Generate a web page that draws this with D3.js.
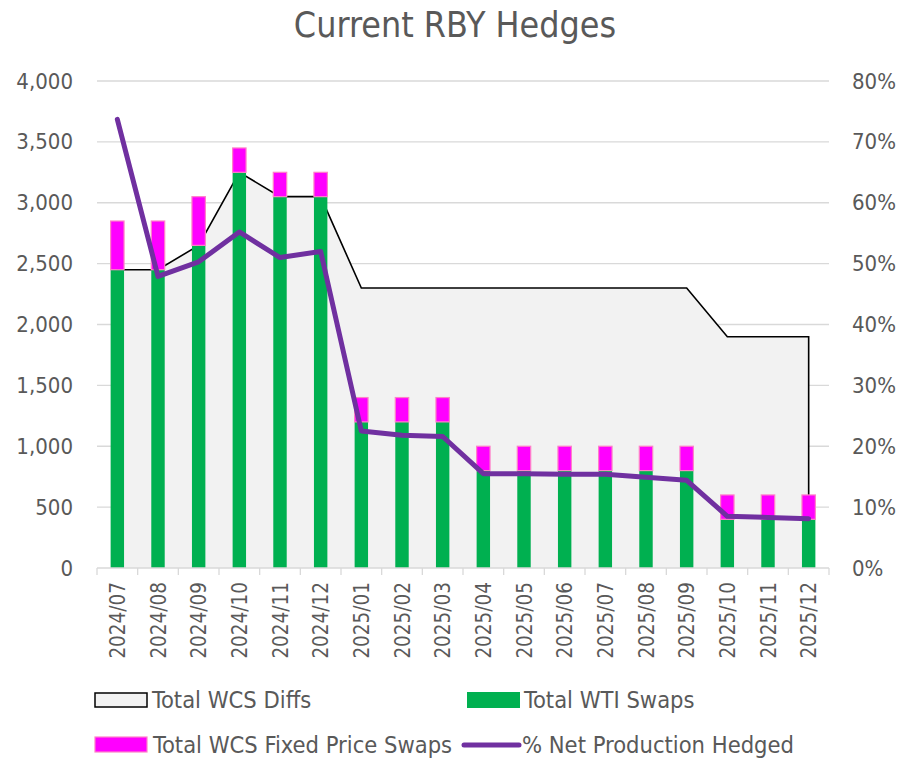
<!DOCTYPE html>
<html>
<head>
<meta charset="utf-8">
<script src="https://cdnjs.cloudflare.com/ajax/libs/d3/7.8.5/d3.min.js"></script>
<style>
  body { margin: 0; background: #fff; }
  svg { display: block; font-family: "DejaVu Sans Condensed", "DejaVu Sans", sans-serif; }
</style>
</head>
<body>
<svg id="canvas" width="903" height="758"></svg>
<script>
var months = ['2024/07', '2024/08', '2024/09', '2024/10', '2024/11', '2024/12',
    '2025/01', '2025/02', '2025/03', '2025/04', '2025/05', '2025/06',
    '2025/07', '2025/08', '2025/09', '2025/10', '2025/11', '2025/12'];
var wcsDiffs = [2450, 2450, 2650, 3250, 3050, 3050, 2300, 2300, 2300, 2300, 2300, 2300,
    2300, 2300, 2300, 1900, 1900, 1900];
var wtiSwaps = [2450, 2450, 2650, 3250, 3050, 3050, 1200, 1200, 1200, 800, 800, 800,
    800, 800, 800, 400, 400, 400];
var wcsFixed = [400, 400, 400, 200, 200, 200, 200, 200, 200, 200, 200, 200,
    200, 200, 200, 200, 200, 200];
var pctHedged = [0.737, 0.479, 0.503, 0.552, 0.510, 0.520, 0.225, 0.218, 0.216, 0.155, 0.155, 0.154,
    0.154, 0.149, 0.144, 0.085, 0.083, 0.081];
var leftTicks = [0, 500, 1000, 1500, 2000, 2500, 3000, 3500, 4000];
var rightTicks = [0, 0.1, 0.2, 0.3, 0.4, 0.5, 0.6, 0.7, 0.8];

var C = {
    left: 97, right: 829, top: 81, bottom: 568,
    text: '#595959', grid: '#d9d9d9',
    green: '#00b050', magenta: '#ff00ff', magentaEdge: '#ff80c8',
    purple: '#7030a0', areaFill: '#f2f2f2'
};

var svg = d3.select('#canvas');
var rows = months.map(function(m, i) {
    return { m: m, diff: wcsDiffs[i], wti: wtiSwaps[i], fixed: wcsFixed[i], pct: pctHedged[i] };
});

var x = d3.scaleBand().domain(months).range([C.left, C.right]);
var y = d3.scaleLinear().domain([0, 4000]).range([C.bottom, C.top]);
var y2 = d3.scaleLinear().domain([0, 0.8]).range([C.bottom, C.top]);
var cx = function(d) { return x(d.m) + x.bandwidth() / 2; };
var barW = x.bandwidth() * 0.33;

// title
svg.append('text')
    .attr('x', 455).attr('y', 37)
    .attr('text-anchor', 'middle')
    .style('font-size', '35.5px').style('fill', C.text)
    .text('Current RBY Hedges');

// gridlines
svg.append('g').selectAll('line').data(leftTicks.slice(1)).enter().append('line')
    .attr('x1', C.left).attr('x2', C.right)
    .attr('y1', function(d) { return y(d); }).attr('y2', function(d) { return y(d); })
    .style('stroke', C.grid).style('stroke-width', 1.3);

// left axis
var yAxis = d3.axisLeft(y).tickValues(leftTicks).tickFormat(d3.format(',')).tickSize(0).tickPadding(24);
svg.append('g').attr('transform', 'translate(' + C.left + ',0)').call(yAxis)
    .call(function(g) { g.select('.domain').remove(); })
    .selectAll('text').style('font-size', '22px').style('fill', C.text)
    .style('font-family', '"DejaVu Sans Condensed", sans-serif');

// right axis
var y2Axis = d3.axisRight(y2).tickValues(rightTicks).tickFormat(d3.format('.0%')).tickSize(0).tickPadding(23);
svg.append('g').attr('transform', 'translate(' + C.right + ',0)').call(y2Axis)
    .call(function(g) { g.select('.domain').remove(); })
    .selectAll('text').style('font-size', '22px').style('fill', C.text)
    .style('font-family', '"DejaVu Sans Condensed", sans-serif');

// area: Total WCS Diffs
var area = d3.area().x(cx).y0(C.bottom).y1(function(d) { return y(d.diff); });
svg.append('path').datum(rows)
    .attr('d', area)
    .style('fill', C.areaFill);
var first = rows[0], last = rows[rows.length - 1];
var outline = [[cx(first), C.bottom]].concat(rows.map(function(d) { return [cx(d), y(d.diff)]; }))
    .concat([[cx(last), C.bottom]]);
svg.append('path').datum(outline)
    .attr('d', d3.line())
    .style('fill', 'none').style('stroke', '#000').style('stroke-width', 1.6);

// bars
var bars = svg.append('g').selectAll('g').data(rows).enter().append('g');
bars.append('rect')
    .attr('x', function(d) { return cx(d) - barW / 2; })
    .attr('width', barW)
    .attr('y', function(d) { return y(d.wti); })
    .attr('height', function(d) { return y(0) - y(d.wti); })
    .style('fill', C.green);
bars.append('rect')
    .attr('x', function(d) { return cx(d) - barW / 2; })
    .attr('width', barW)
    .attr('y', function(d) { return y(d.wti + d.fixed); })
    .attr('height', function(d) { return y(d.wti) - y(d.wti + d.fixed); })
    .style('fill', C.magenta).style('stroke', C.magentaEdge).style('stroke-width', 1.2);

// x axis line and ticks
svg.append('line')
    .attr('x1', C.left).attr('x2', C.right).attr('y1', C.bottom).attr('y2', C.bottom)
    .style('stroke', C.grid).style('stroke-width', 1.5);
var xTicks = months.map(function(m) { return x(m); }).concat([C.right]);
svg.append('g').selectAll('line').data(xTicks).enter().append('line')
    .attr('x1', function(d) { return d; }).attr('x2', function(d) { return d; })
    .attr('y1', C.bottom).attr('y2', C.bottom + 7)
    .style('stroke', C.grid).style('stroke-width', 1.3);
svg.append('g').selectAll('text').data(rows).enter().append('text')
    .attr('transform', function(d) { return 'translate(' + (cx(d) + 7.5) + ',' + (C.bottom + 14) + ') rotate(-90)'; })
    .attr('text-anchor', 'end')
    .style('font-size', '20.5px').style('fill', C.text)
    .text(function(d) { return d.m; });

// % Net Production Hedged line
svg.append('path').datum(rows)
    .attr('d', d3.line().x(cx).y(function(d) { return y2(d.pct); }))
    .style('fill', 'none').style('stroke', C.purple).style('stroke-width', 5)
    .style('stroke-linejoin', 'round').style('stroke-linecap', 'round');

// legend
var legend = svg.append('g').style('font-size', '23.5px').style('fill', C.text);
legend.append('rect').attr('x', 95).attr('y', 693).attr('width', 52).attr('height', 14)
    .style('fill', C.areaFill).style('stroke', '#000').style('stroke-width', 1.5);
legend.append('text').attr('x', 152).attr('y', 708).text('Total WCS Diffs');
legend.append('rect').attr('x', 467).attr('y', 692).attr('width', 53).attr('height', 16)
    .style('fill', C.green);
legend.append('text').attr('x', 524).attr('y', 708).text('Total WTI Swaps');
legend.append('rect').attr('x', 95).attr('y', 737).attr('width', 52).attr('height', 15)
    .style('fill', C.magenta).style('stroke', C.magentaEdge).style('stroke-width', 1.2);
legend.append('text').attr('x', 153).attr('y', 753).text('Total WCS Fixed Price Swaps');
legend.append('line').attr('x1', 464).attr('x2', 519).attr('y1', 745).attr('y2', 745)
    .style('stroke', C.purple).style('stroke-width', 5).style('stroke-linecap', 'round');
legend.append('text').attr('x', 522).attr('y', 753).text('% Net Production Hedged');
</script>
</body>
</html>
